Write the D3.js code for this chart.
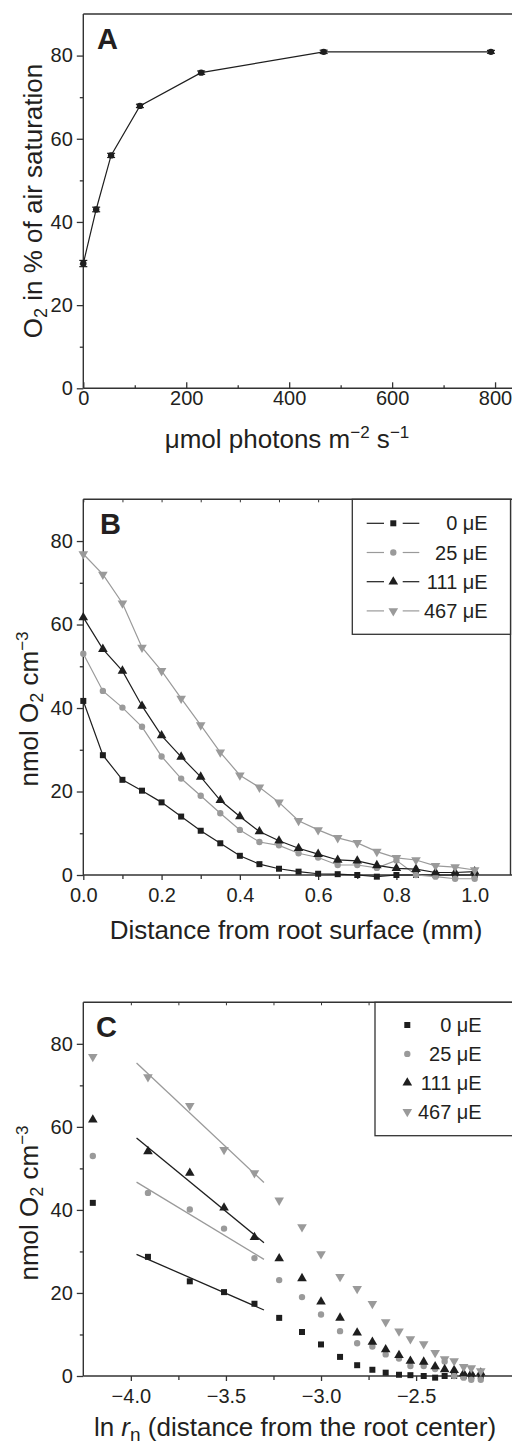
<!DOCTYPE html>
<html>
<head>
<meta charset="utf-8">
<script src="https://cdn.jsdelivr.net/npm/d3@7"></script>
<style>
  body { margin: 0; background: #fff; }
  text { font-family: "Liberation Sans", Arial, Helvetica, sans-serif; fill: #231f20; }
</style>
</head>
<body>
<svg id="chart" width="512" height="1447"></svg>
<script>
// ---- data, panel A (O2 vs light)
let lightA = [0, 25, 54, 110, 229, 467, 792];
let satA = [30.0, 43.0, 56.0, 67.9, 75.9, 80.9, 80.9];
let errA = [0.75, 0.55, 0.5, 0.4, 0.4, 0.4, 0.35];

// ---- data, panels B and C (profiles)
let distB = [0, 0.05, 0.1, 0.15, 0.2, 0.25, 0.3, 0.35, 0.4, 0.45, 0.5, 0.55, 0.6, 0.65, 0.7, 0.75, 0.8, 0.85, 0.9, 0.95, 1.0];
let lnR = [-4.20, -3.91, -3.69, -3.51, -3.35, -3.22, -3.10, -3.00, -2.90, -2.81, -2.73, -2.66, -2.59, -2.53, -2.46, -2.40, -2.35, -2.30, -2.25, -2.21, -2.16];
let o2_0 = [41.7, 28.7, 22.8, 20.2, 17.4, 14.0, 10.6, 7.6, 4.6, 2.6, 1.5, 0.8, 0.3, 0.2, 0.0, -0.4, 0.0, 0.0, 0.0, 0.0, 0.0];
let o2_25 = [53.0, 44.1, 40.1, 35.5, 28.4, 23.1, 19.0, 14.8, 10.8, 7.9, 7.1, 5.2, 4.2, 2.4, 2.4, 1.7, 3.5, 0.0, -0.4, -0.9, -0.9];
let o2_111 = [61.7, 54.1, 48.9, 40.5, 33.4, 28.3, 23.5, 17.9, 14.0, 10.4, 8.2, 6.4, 5.0, 3.6, 3.4, 2.3, 1.6, 1.4, 0.6, 0.6, 0.8];
let o2_467 = [76.9, 72.0, 65.1, 54.5, 48.9, 42.3, 35.9, 29.4, 23.9, 21.0, 17.4, 13.0, 10.8, 8.9, 7.7, 5.6, 4.1, 3.6, 2.2, 1.9, 1.2];
let seriesNames = ['0 μE', '25 μE', '111 μE', '467 μE'];

// linear fits in panel C (end points)
let fitX = [-3.97, -3.30];
let fit0 = [29.3, 15.9];
let fit25 = [46.7, 28.1];
let fit111 = [57.3, 32.1];
let fit467 = [75.4, 46.6];

let BLACK = '#1e1e1e', GREY = '#9a9a9a';
let series = [
    { name: seriesNames[0], vals: o2_0, fit: fit0, color: BLACK, sym: d3.symbolSquare, size: 36, rot: 0 },
    { name: seriesNames[1], vals: o2_25, fit: fit25, color: GREY, sym: d3.symbolCircle, size: 32, rot: 0 },
    { name: seriesNames[2], vals: o2_111, fit: fit111, color: BLACK, sym: d3.symbolTriangle, size: 40, rot: 0 },
    { name: seriesNames[3], vals: o2_467, fit: fit467, color: GREY, sym: d3.symbolTriangle, size: 40, rot: 180 }
];

let svg = d3.select('#chart');
let AXC = '#333';

//builds one framed panel with its axes
function panel(o) {
    let x = d3.scaleLinear().domain(o.xDomain).range([83.3, o.right]);
    let y = d3.scaleLinear().domain([0, 90]).range([o.bottom, o.top]);
    let g = svg.append('g');

    // x axis, major + minor
    let xa = d3.axisBottom(x).tickValues(o.xMajor).tickFormat(o.xFmt).tickSizeOuter(0);
    if (o.inward) xa.tickSize(-6).tickPadding(2); else xa.tickSize(5).tickPadding(8);
    let xm = d3.axisBottom(x).tickValues(o.xMinor).tickFormat('').tickSizeOuter(0);
    if (o.inward) xm.tickSize(-3); else xm.tickSize(4);
    [xa, xm].forEach(a => {
        g.append('g')
            .attr('transform', 'translate(0,' + o.bottom + ')')
            .call(a)
            .call(s => s.select('.domain').remove())
            .attr('font-size', 20).attr('color', AXC);
    });

    // y axis
    let ya = d3.axisLeft(y).tickValues([0, 20, 40, 60, 80]).tickSize(6.5).tickPadding(4).tickSizeOuter(0);
    let ym = d3.axisLeft(y).tickValues([10, 30, 50, 70]).tickSize(3.5).tickFormat('').tickSizeOuter(0);
    [ya, ym].forEach(a => {
        g.append('g')
            .attr('transform', 'translate(83.3,0)')
            .call(a)
            .call(s => s.select('.domain').remove())
            .attr('font-size', 20).attr('color', AXC);
    });
    g.selectAll('.tick line').attr('stroke-width', 1.3);

    // top ticks pointing inward
    if (o.topTicks) {
        g.append('g')
            .attr('transform', 'translate(0,' + o.top + ')')
            .call(d3.axisTop(x).tickValues(o.xMajor.concat(o.xMinor)).tickFormat('').tickSize(-3).tickSizeOuter(0))
            .call(s => s.select('.domain').remove())
            .attr('color', AXC);
    }

    // frame
    let fr = [[83.3, o.top, 512, o.top], [83.3, o.top, 83.3, o.bottom], [83.3, o.bottom, 512, o.bottom]];
    if (o.rightLine) fr.push([o.right, o.top, o.right, o.bottom]);
    g.selectAll('line.frame').data(fr).enter().append('line')
        .attr('x1', d => d[0]).attr('y1', d => d[1]).attr('x2', d => d[2]).attr('y2', d => d[3])
        .attr('stroke', AXC).attr('stroke-width', 1.4);

    // panel letter
    svg.append('text').attr('x', o.letterX).attr('y', o.top + 35)
        .attr('font-size', 29).attr('font-weight', 'bold').text(o.letter);
    return { x, y };
}

function yTitle(cx, cy, parts) {
    let t = svg.append('text')
        .attr('transform', 'translate(' + cx + ',' + cy + ') rotate(-90)')
        .attr('text-anchor', 'middle').attr('font-size', 26);
    parts(t);
}

function marker(sel, s) {
    sel.attr('d', d3.symbol().type(s.sym).size(s.size))
        .attr('fill', s.color);
}

// ================= Panel A
let A = panel({
    top: 14, bottom: 388.3, right: 510.5, xDomain: [0, 830],
    xMajor: [0, 200, 400, 600, 800], xMinor: [100, 300, 500, 700], xFmt: d3.format('d'),
    inward: true, topTicks: false, rightLine: false, letter: 'A', letterX: 97
});

let ptsA = lightA.map((v, i) => ({ x: v, y: satA[i], e: errA[i] }));
svg.append('path').datum(ptsA)
    .attr('d', d3.line().x(d => A.x(d.x)).y(d => A.y(d.y)))
    .attr('fill', 'none').attr('stroke', BLACK).attr('stroke-width', 1.2);
let eb = svg.append('g').attr('stroke', BLACK).attr('stroke-width', 1.2);
ptsA.forEach(d => {
    let cx = A.x(d.x), y1 = A.y(d.y - d.e), y2 = A.y(d.y + d.e);
    eb.append('line').attr('x1', cx).attr('x2', cx).attr('y1', y1).attr('y2', y2);
    eb.append('line').attr('x1', cx - 4).attr('x2', cx + 4).attr('y1', y1).attr('y2', y1);
    eb.append('line').attr('x1', cx - 4).attr('x2', cx + 4).attr('y1', y2).attr('y2', y2);
});
svg.append('g').selectAll('circle').data(ptsA).enter().append('circle')
    .attr('cx', d => A.x(d.x)).attr('cy', d => A.y(d.y)).attr('r', 3.2).attr('fill', BLACK);

yTitle(42, 201, t => {
    t.append('tspan').text('O');
    t.append('tspan').attr('font-size', 18).attr('dy', 5).text('2');
    t.append('tspan').attr('dy', -5).text(' in % of air saturation');
});
let tA = svg.append('text').attr('x', 287).attr('y', 448).attr('text-anchor', 'middle').attr('font-size', 26);
tA.append('tspan').text('μmol photons m');
tA.append('tspan').attr('font-size', 17).attr('dy', -10).text('−2');
tA.append('tspan').attr('dy', 10).text(' s');
tA.append('tspan').attr('font-size', 17).attr('dy', -10).text('−1');

// ================= Panel B
let B = panel({
    top: 499.3, bottom: 875, right: 510.5, xDomain: [0, 1.0915],
    xMajor: [0, 0.2, 0.4, 0.6, 0.8, 1.0], xMinor: [0.1, 0.3, 0.5, 0.7, 0.9], xFmt: d3.format('.1f'),
    inward: false, topTicks: true, rightLine: true, letter: 'B', letterX: 100
});

series.forEach(s => {
    let pts = distB.map((d, i) => [d, s.vals[i]]);
    svg.append('path').datum(pts)
        .attr('d', d3.line().x(d => B.x(d[0])).y(d => B.y(d[1])))
        .attr('fill', 'none').attr('stroke', s.color).attr('stroke-width', 1.2);
    svg.append('g').selectAll('path').data(pts).enter().append('path')
        .attr('transform', d => 'translate(' + B.x(d[0]) + ',' + B.y(d[1]) + ') rotate(' + s.rot + ')')
        .call(marker, s);
});

// legend B
svg.append('rect').attr('x', 352.3).attr('y', 499.3).attr('width', 158.2).attr('height', 135)
    .attr('fill', '#fff').attr('stroke', AXC).attr('stroke-width', 1.3);
series.forEach((s, i) => {
    let ly = 523.3 + i * 29.2;
    let lg = svg.append('g');
    lg.append('line').attr('x1', 366.7).attr('x2', 384).attr('y1', ly).attr('y2', ly).attr('stroke', s.color).attr('stroke-width', 1.2);
    lg.append('line').attr('x1', 402.7).attr('x2', 419.3).attr('y1', ly).attr('y2', ly).attr('stroke', s.color).attr('stroke-width', 1.2);
    lg.append('path').attr('transform', 'translate(393.3,' + ly + ') rotate(' + s.rot + ')').call(marker, s);
    lg.append('text').attr('x', 487.7).attr('y', ly + 7).attr('text-anchor', 'end').attr('font-size', 20).text(s.name);
});

yTitle(38, 709, t => {
    t.append('tspan').text('nmol O');
    t.append('tspan').attr('font-size', 18).attr('dy', 5).text('2');
    t.append('tspan').attr('dy', -5).text(' cm');
    t.append('tspan').attr('font-size', 17).attr('dy', -10).text('−3');
});
svg.append('text').attr('x', 296).attr('y', 939).attr('text-anchor', 'middle').attr('font-size', 26)
    .text('Distance from root surface (mm)');

// ================= Panel C
let C = panel({
    top: 1002.3, bottom: 1376, right: 511.2, xDomain: [-4.25, -2.0],
    xMajor: [-4.0, -3.5, -3.0, -2.5], xMinor: [-3.75, -3.25, -2.75, -2.25], xFmt: d3.format('.1f'),
    inward: false, topTicks: true, rightLine: false, letter: 'C', letterX: 96
});

series.forEach(s => {
    svg.append('line')
        .attr('x1', C.x(fitX[0])).attr('y1', C.y(s.fit[0]))
        .attr('x2', C.x(fitX[1])).attr('y2', C.y(s.fit[1]))
        .attr('stroke', s.color).attr('stroke-width', 1.3);
});
series.forEach(s => {
    let pts = lnR.map((d, i) => [d, s.vals[i]]);
    svg.append('g').selectAll('path').data(pts).enter().append('path')
        .attr('transform', d => 'translate(' + C.x(d[0]) + ',' + C.y(d[1]) + ') rotate(' + s.rot + ')')
        .call(marker, s);
});

// legend C
svg.append('rect').attr('x', 375).attr('y', 1002.3).attr('width', 140).attr('height', 133.4)
    .attr('fill', '#fff').attr('stroke', AXC).attr('stroke-width', 1.3);
series.forEach((s, i) => {
    let ly = 1025 + i * 28.9;
    svg.append('path').attr('transform', 'translate(407.3,' + ly + ') rotate(' + s.rot + ')').call(marker, s);
    svg.append('text').attr('x', 481.7).attr('y', ly + 7).attr('text-anchor', 'end').attr('font-size', 20).text(s.name);
});

yTitle(38, 1203, t => {
    t.append('tspan').text('nmol O');
    t.append('tspan').attr('font-size', 18).attr('dy', 5).text('2');
    t.append('tspan').attr('dy', -5).text(' cm');
    t.append('tspan').attr('font-size', 17).attr('dy', -10).text('−3');
});
let tC = svg.append('text').attr('x', 295).attr('y', 1436).attr('text-anchor', 'middle').attr('font-size', 26);
tC.append('tspan').text('ln ');
tC.append('tspan').attr('font-style', 'italic').text('r');
tC.append('tspan').attr('font-size', 19).attr('dy', 5).text('n');
tC.append('tspan').attr('dy', -5).text(' (distance from the root center)');
</script>
</body>
</html>
